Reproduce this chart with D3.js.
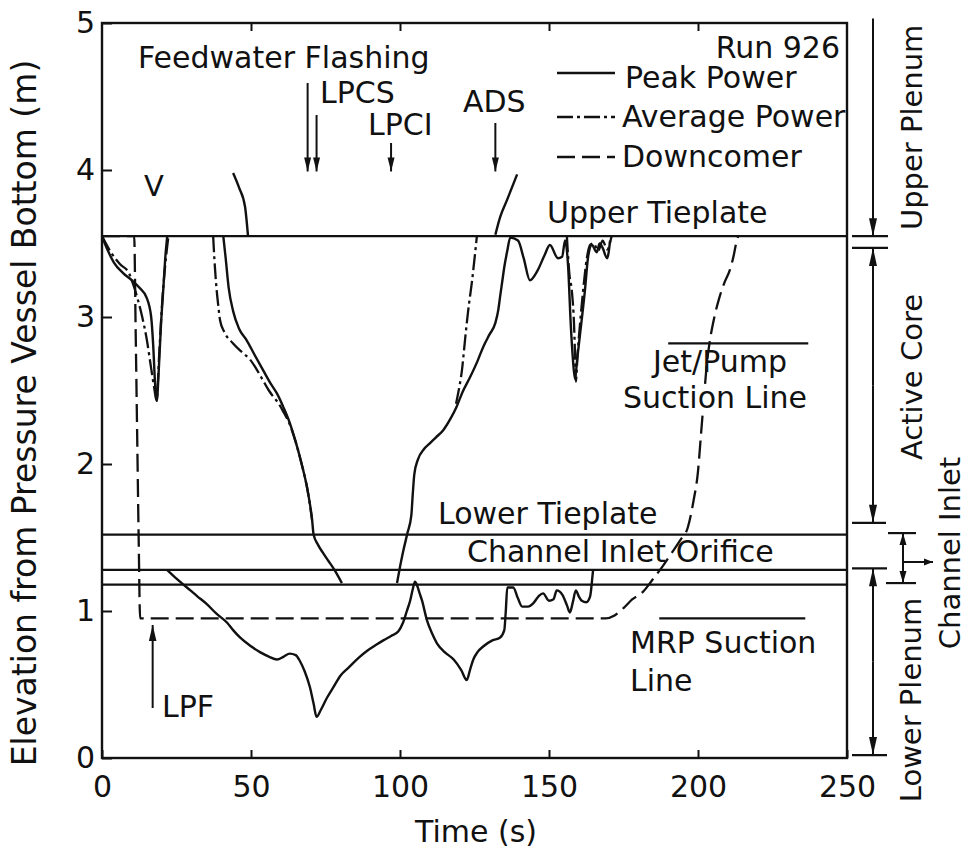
<!DOCTYPE html>
<html>
<head>
<meta charset="utf-8">
<script src="https://cdn.jsdelivr.net/npm/d3@7"></script>
<style>
  html, body { margin: 0; padding: 0; background: #fff; }
  svg { display: block; font-family: "DejaVu Sans", sans-serif; }
</style>
</head>
<body>
<svg id="chart" width="971" height="853"></svg>
<script>
// Collapsed liquid levels for Run 926: [time (s), elevation (m)]; null splits a trace.
const peakPower = [
  [0, 3.55], [2, 3.45], [4, 3.37], [7, 3.3], [10, 3.25], [12.5, 3.2], [15, 3.13], [16.5, 3.0],
  [17.2, 2.8], [17.8, 2.55], [18.4, 2.43], [19.0, 2.62], [19.8, 2.95], [20.6, 3.2], [21.3, 3.42], [21.9, 3.55],
  null,
  [44, 3.98], [46, 3.88], [48, 3.75], [49, 3.55],
  null,
  [40.7, 3.55], [41.5, 3.4], [42.5, 3.2], [44, 3.04], [46, 2.92], [48.6, 2.84], [51, 2.75], [54, 2.64],
  [56.5, 2.55], [58.7, 2.48], [61, 2.38], [63, 2.28], [65, 2.15], [67, 2.0], [69, 1.82], [70.5, 1.62],
  [71, 1.52], [72.5, 1.45], [74, 1.4], [76, 1.34], [78, 1.28], [80.5, 1.19],
  null,
  [21.8, 1.28], [25, 1.22], [28.5, 1.16], [32, 1.1], [35, 1.05], [38.5, 0.98], [42, 0.92], [44, 0.87],
  [46.3, 0.82], [50, 0.76], [53, 0.72], [56, 0.69], [58.7, 0.67], [61, 0.69], [63, 0.71], [65, 0.7],
  [66.4, 0.66], [68, 0.59], [69.8, 0.48], [71, 0.37], [72, 0.28], [73.5, 0.33], [75.5, 0.41], [77.6, 0.48],
  [80, 0.56], [83, 0.62], [86, 0.68], [89, 0.73], [92, 0.77], [94.4, 0.8], [97, 0.83], [99.4, 0.86],
  [101, 0.92], [102.3, 1.0], [103.4, 1.07], [104.3, 1.15], [105, 1.2], [105.8, 1.17], [106.6, 1.12],
  [107.4, 1.07], [109, 0.94], [110.7, 0.85], [112.4, 0.78], [115, 0.72], [118, 0.67], [120.5, 0.6],
  [122.4, 0.53], [123.5, 0.6], [124.6, 0.67], [126, 0.72], [128, 0.76], [131, 0.8], [133.6, 0.82],
  [135, 0.87], [135.5, 1.0], [136, 1.16], [138, 1.16], [139.5, 1.09], [141, 1.03], [143, 1.03],
  [144.6, 1.05], [146.5, 1.1], [148, 1.12], [150, 1.07], [151.5, 1.08], [152.6, 1.14], [154.5, 1.11],
  [156, 1.04], [157, 0.99], [158, 1.06], [159, 1.14], [160, 1.1], [161, 1.07], [162.5, 1.06],
  [163.8, 1.1], [164.6, 1.24], [164.8, 1.28],
  null,
  [99, 1.19], [100, 1.3], [101, 1.4], [102.5, 1.53], [103.8, 1.65], [104.3, 1.8], [104.8, 1.93],
  [106, 2.03], [108, 2.1], [110, 2.14], [112, 2.18], [114.5, 2.23], [117, 2.31], [119, 2.39],
  [121, 2.49], [123.5, 2.59], [126, 2.7], [128, 2.8], [130, 2.88], [132, 2.96], [133, 3.05],
  [133.6, 3.14], [134.3, 3.24], [135, 3.34], [136, 3.45], [137, 3.54], [139.6, 3.52], [141.5, 3.4],
  [143.6, 3.25], [146, 3.31], [148.5, 3.42], [150.3, 3.49], [153, 3.4], [154.4, 3.41], [155.4, 3.52],
  [156.4, 3.35], [157.3, 2.95], [158, 2.72], [158.7, 2.58], [159.5, 2.72], [160.4, 2.88], [162, 3.17],
  [163.2, 3.42], [164.4, 3.49], [166, 3.44], [167, 3.5], [168, 3.47], [169.5, 3.4], [170.5, 3.52],
  null,
  [132, 3.56], [133.6, 3.68], [136, 3.8], [139.3, 3.97]
];

const averagePower = [
  [0, 3.55], [3, 3.44], [6, 3.36], [9, 3.3], [10.5, 3.22], [12, 3.12], [13.5, 3.0], [15, 2.85],
  [16.5, 2.65], [17.5, 2.52], [18.3, 2.43], [19.2, 2.75], [20.2, 3.1], [21.2, 3.35], [22.3, 3.55],
  null,
  [37.3, 3.55], [37.7, 3.4], [38.2, 3.25], [39, 3.08], [39.6, 2.98], [41, 2.9], [44, 2.82], [47, 2.76],
  [49.7, 2.71], [52, 2.64], [54, 2.57], [56, 2.5], [57.4, 2.46], [59, 2.42], [61, 2.35], [63, 2.27],
  [65, 2.15], [67, 2.0], [69, 1.82], [70.5, 1.62],
  null,
  [118.8, 2.41], [119.5, 2.48], [120.8, 2.64], [121.8, 2.84], [122.8, 3.03], [124.2, 3.25], [125.8, 3.55],
  null,
  [156, 3.55], [156.8, 3.3], [157.7, 3.17], [158.4, 2.95], [158.8, 2.7], [159, 2.56], [159.6, 2.75],
  [160.4, 2.95], [161.4, 3.17], [162.7, 3.4], [163.8, 3.49], [165, 3.5], [166.5, 3.45], [168, 3.52],
  [169.5, 3.46], [171, 3.55]
];

const downcomer = [
  [0, 3.55], [10.8, 3.55], [11.3, 2.9], [11.8, 2.2], [12.3, 1.5], [12.8, 0.95], [40, 0.95], [80, 0.95],
  [120, 0.95], [160, 0.95], [169, 0.95], [172, 0.97], [175, 1.02], [178, 1.08], [181.5, 1.13],
  [185, 1.22], [188, 1.3], [191, 1.39], [194, 1.48], [196.6, 1.57], [198.5, 1.75], [200, 1.95],
  [201, 2.2], [202, 2.45], [203, 2.69], [204, 2.84], [205.5, 3.0], [207, 3.12], [209, 3.24],
  [210.7, 3.32], [212, 3.42], [213, 3.52], [213.5, 3.55]
];

const xTicks = [0, 50, 100, 150, 200, 250];
const yTicks = [0, 1, 2, 3, 4, 5];

// Reference elevations (m)
const upperTieplate = 3.55;
const lowerTieplate = 1.52;
const orificeTop = 1.28;
const orificeBottom = 1.18;
const jetPumpSuction = { level: 2.82, from: 190, to: 237 };
const mrpSuction = { level: 0.95, from: 187, to: 236 };

// ECC injection events (s)
const eventNames = ["LPCS", "LPCS", "LPCI", "ADS"];
const eventTimes = [69, 72, 97, 132];
const lpfTime = 17;

// Vessel regions marked beside the frame: [bottom, top] elevation (m)
const regionUpperPlenum = [3.55, 5.03];
const regionActiveCore = [1.6, 3.47];
const regionChannelInlet = [1.19, 1.53];
const regionLowerPlenum = [0.02, 1.29];

const svg = d3.select("#chart");
const ink = "#111";
const x = d3.scaleLinear().domain([0, 250]).range([102, 847]);
const y = d3.scaleLinear().domain([0, 5]).range([758, 23]);

const FS = 30;

// Axes (inward ticks)
const gx = svg.append("g").attr("transform", `translate(0,${y(0)})`)
  .call(d3.axisBottom(x).tickValues(xTicks).tickFormat(d3.format("d"))
    .tickSizeInner(-8).tickSizeOuter(0).tickPadding(18));
const gy = svg.append("g").attr("transform", `translate(${x(0)},0)`)
  .call(d3.axisLeft(y).tickValues(yTicks).tickFormat(d3.format("d"))
    .tickSizeInner(-10).tickSizeOuter(0).tickPadding(7));
const gt = svg.append("g").attr("transform", `translate(0,${y(5)})`)
  .call(d3.axisTop(x).tickValues([50, 100, 150, 200]).tickSizeInner(-8).tickSizeOuter(0).tickFormat(""));
[gx, gy, gt].forEach(g => {
  g.select(".domain").remove();
  g.selectAll("line").attr("stroke", ink).attr("stroke-width", 2);
  g.selectAll("text").attr("fill", ink).style("font-size", FS + "px").style("font-family", "DejaVu Sans");
});

// Frame
svg.append("rect")
  .attr("x", x(0)).attr("y", y(5))
  .attr("width", x(250) - x(0)).attr("height", y(0) - y(5))
  .attr("fill", "none").attr("stroke", ink).attr("stroke-width", 2.4);

// Horizontal reference lines across the plot
[upperTieplate, lowerTieplate, orificeTop, orificeBottom].forEach(h => {
  svg.append("line")
    .attr("x1", x(0)).attr("x2", x(250)).attr("y1", y(h)).attr("y2", y(h))
    .attr("stroke", ink).attr("stroke-width", 2.2);
});
[jetPumpSuction, mrpSuction].forEach(s => {
  svg.append("line")
    .attr("x1", x(s.from)).attr("x2", x(s.to)).attr("y1", y(s.level)).attr("y2", y(s.level))
    .attr("stroke", ink).attr("stroke-width", 2.2);
});

// Level traces (time increases along every trace, so a monotone curve keeps them from overshooting)
const line = d3.line()
  .defined(d => d !== null)
  .x(d => x(d[0])).y(d => y(d[1]))
  .curve(d3.curveMonotoneX);

const styles = {
  peak: { dash: null },
  avg: { dash: "16,4,3,4" },
  down: { dash: "18,7" }
};

svg.append("path").datum(downcomer).attr("d", line)
  .attr("fill", "none").attr("stroke", ink).attr("stroke-width", 2.3)
  .attr("stroke-dasharray", styles.down.dash);
svg.append("path").datum(averagePower).attr("d", line)
  .attr("fill", "none").attr("stroke", ink).attr("stroke-width", 2.3)
  .attr("stroke-dasharray", styles.avg.dash);
svg.append("path").datum(peakPower).attr("d", line)
  .attr("fill", "none").attr("stroke", ink).attr("stroke-width", 2.4);

// Arrow helper: line from (x1,y1) to (x2,y2) with a slim filled head at the end
function arrow(x1, y1, x2, y2, len = 16, hw = 3.8) {
  svg.append("line").attr("x1", x1).attr("y1", y1).attr("x2", x2).attr("y2", y2)
    .attr("stroke", ink).attr("stroke-width", 2);
  const dx = x2 - x1, dy = y2 - y1, L = Math.hypot(dx, dy);
  const ux = dx / L, uy = dy / L;
  const bx = x2 - ux * len, by = y2 - uy * len;
  svg.append("path")
    .attr("d", `M${x2},${y2}L${bx - uy * hw},${by + ux * hw}L${bx + uy * hw},${by - ux * hw}Z`)
    .attr("fill", ink);
}

// Event arrows
const eventTops = [83, 115, 143, 123];
eventTimes.forEach((t, i) => arrow(x(t), eventTops[i], x(t), y(3.99), 14, 3.5));
arrow(x(lpfTime), y(0.34), x(lpfTime), y(0.905), 16, 3.8);

// Text helper
function label(txt, px, py, opts = {}) {
  const t = svg.append("text").attr("x", px).attr("y", py)
    .attr("fill", ink).style("font-size", (opts.size || FS) + "px")
    .attr("text-anchor", opts.anchor || "start").text(txt);
  if (opts.rotate) t.attr("transform", `rotate(-90,${px},${py})`);
  if (opts.halo) t.attr("stroke", "#fff").attr("stroke-width", opts.halo)
    .attr("paint-order", "stroke").attr("stroke-linejoin", "round");
  return t;
}

label("Feedwater Flashing", 138, 68);
label(eventNames[0], 320, 103);
label(eventNames[2], 368, 135);
label(eventNames[3], 463, 112);
label("LPF", 162, 717);
label("V", 154, 196, { anchor: "middle", size: 29 });
label("Run 926", 840, 58, { anchor: "end" });
label("Upper Tieplate", 547, 223);
label("Jet/Pump", 653, 372);
label("Suction Line", 623, 408, { halo: 7 });
label("Lower Tieplate", 438, 524);
label("Channel Inlet Orifice", 467, 562);
label("MRP Suction", 630, 653);
label("Line", 630, 691);

// Legend
const legendItems = [
  { name: "Peak Power", style: styles.peak, ly: 73, tx: 625, ty: 88 },
  { name: "Average Power", style: styles.avg, ly: 117, tx: 622, ty: 127 },
  { name: "Downcomer", style: styles.down, ly: 157, tx: 622, ty: 167 }
];
legendItems.forEach(d => {
  svg.append("line").attr("x1", 557).attr("x2", 615).attr("y1", d.ly).attr("y2", d.ly)
    .attr("stroke", ink).attr("stroke-width", 2.3)
    .attr("stroke-dasharray", d.style.dash);
  label(d.name, d.tx, d.ty);
});

// Axis titles
label("Time (s)", 476, 842, { anchor: "middle" });
label("Elevation from Pressure Vessel Bottom (m)", 36, 413, { anchor: "middle", rotate: true, size: 33 });

// Vessel region markers on the right
const ax = 873;
function bar(h, xa, xb) {
  svg.append("line").attr("x1", xa).attr("x2", xb).attr("y1", y(h)).attr("y2", y(h))
    .attr("stroke", ink).attr("stroke-width", 2.2);
}
// Upper plenum
bar(regionUpperPlenum[0], 852, 888);
arrow(ax, y(regionUpperPlenum[1]), ax, y(regionUpperPlenum[0]), 18, 4);
// Active core
bar(regionActiveCore[1], 852, 888);
bar(regionActiveCore[0], 852, 886);
arrow(ax, (y(regionActiveCore[0]) + y(regionActiveCore[1])) / 2, ax, y(regionActiveCore[1]), 18, 4);
arrow(ax, (y(regionActiveCore[0]) + y(regionActiveCore[1])) / 2, ax, y(regionActiveCore[0]), 18, 4);
// Lower plenum
bar(regionLowerPlenum[1], 852, 887);
bar(regionLowerPlenum[0], 852, 887);
arrow(ax, (y(regionLowerPlenum[0]) + y(regionLowerPlenum[1])) / 2, ax, y(regionLowerPlenum[1]), 18, 4);
arrow(ax, (y(regionLowerPlenum[0]) + y(regionLowerPlenum[1])) / 2, ax, y(regionLowerPlenum[0]), 18, 4);
// Channel inlet
const cx = 903;
bar(regionChannelInlet[1], 888, 916);
bar(regionChannelInlet[0], 886, 916);
const cMid = y(1.34);
arrow(cx, cMid, cx, y(regionChannelInlet[1]), 12, 3.5);
arrow(cx, cMid, cx, y(regionChannelInlet[0]), 12, 3.5);
arrow(cx, cMid + 1, 933, cMid + 1, 9, 3.5);

label("Upper Plenum", 922, y((regionUpperPlenum[0] + regionUpperPlenum[1]) / 2), { anchor: "middle", rotate: true, size: 29 });
label("Active Core", 922, 377, { anchor: "middle", rotate: true, size: 29 });
label("Lower Plenum", 921, 700, { anchor: "middle", rotate: true, size: 29 });
label("Channel Inlet", 960, 553, { anchor: "middle", rotate: true, size: 29 });
</script>
</body>
</html>
